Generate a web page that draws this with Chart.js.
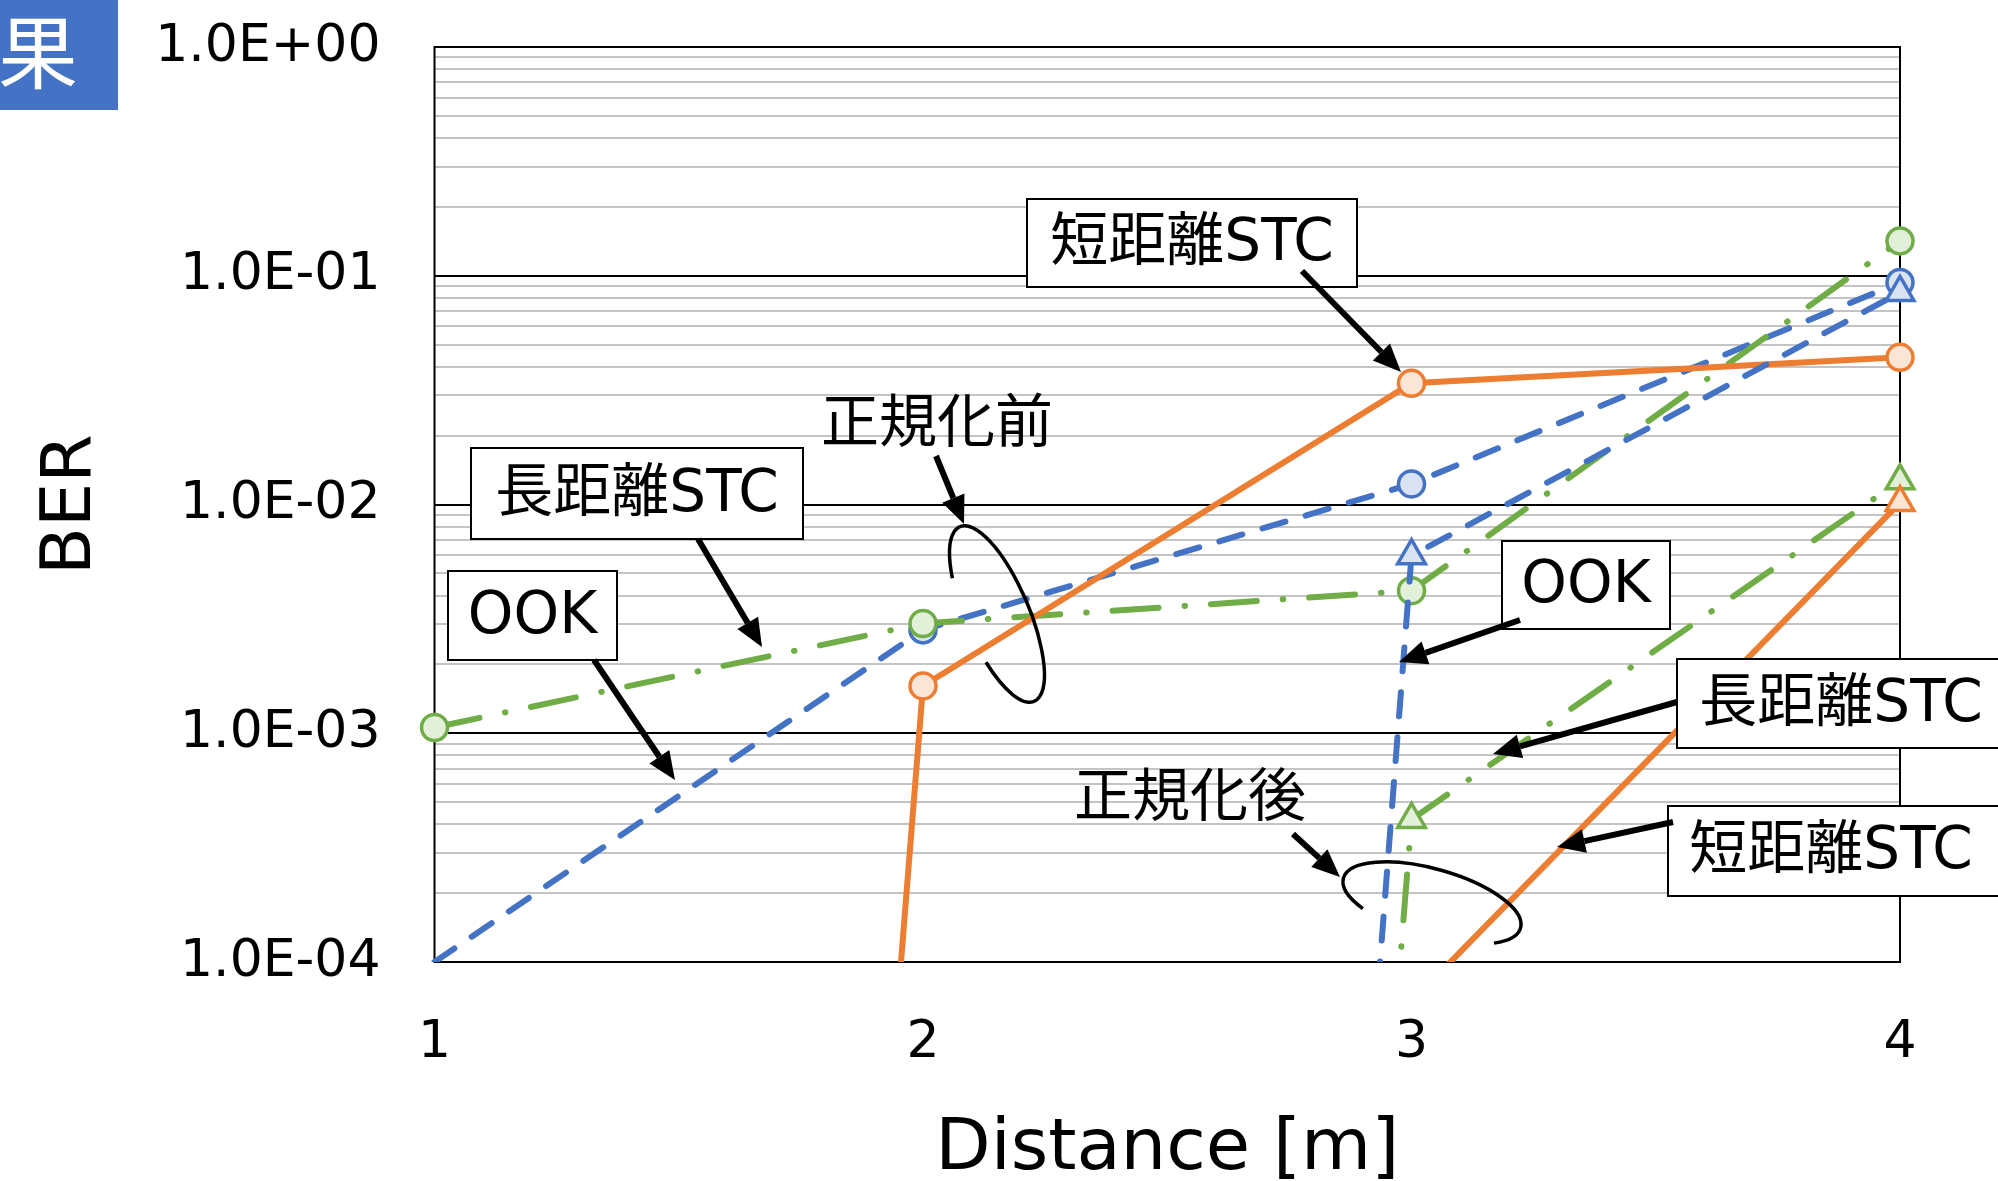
<!DOCTYPE html>
<html>
<head>
<meta charset="utf-8">
<script src="https://cdn.jsdelivr.net/npm/chart.js@4/dist/chart.umd.min.js"></script>
<style>
  html, body { margin: 0; padding: 0; background: #fff; }
  canvas { display: block; }
</style>
</head>
<body>
<canvas id="berChart" width="1998" height="1181"></canvas>
<script>
// --- data ---
const distances = [1, 2, 3, 4];
const ookBefore = [1.0e-4, 2.83e-3, 1.23e-2, 9.35e-2];
const longStcBefore = [1.06e-3, 3.02e-3, 4.2e-3, 1.42e-1];
const shortStcBefore = [2.5e-30, 1.61e-3, 3.39e-2, 4.4e-2];
const ookAfter = [null, 1.6e-30, 5.97e-3, 8.45e-2];
const longStcAfter = [null, 1.0e-30, 4.2e-4, 1.27e-2];
const shortStcAfter = [null, null, 6.7e-5, 1.02e-2];

const xTickLabels = ['1', '2', '3', '4'];
const yDecades = [1e-4, 1e-3, 1e-2, 1e-1, 1];
const yTickLabels = ['1.0E-04', '1.0E-03', '1.0E-02', '1.0E-01', '1.0E+00'];

const LATIN = '"DejaVu Sans", "Noto Sans CJK JP", sans-serif';
const BLUE = '#4472C4', ORANGE = '#ED7D31', GREEN = '#70AD47';

function pts(arr) {
  return distances.map((d, i) => ({ x: d, y: arr[i] }));
}

function series(label, arr, color, fill, shape, dash, order) {
  return {
    label: label,
    data: pts(arr),
    borderColor: color,
    borderWidth: 6,
    borderDash: dash,
    borderCapStyle: 'round',
    pointStyle: shape,
    pointRadius: shape === 'triangle' ? 16 : 13,
    pointBorderWidth: 3.5,
    pointBackgroundColor: fill,
    pointBorderColor: color,
    tension: 0,
    spanGaps: false,
    order: order,
    clip: { left: 30, right: 30, top: 30, bottom: 0 }
  };
}

const dashLine = [24, 21];
const dashDot = [46, 26, 0.5, 26];

const datasets = [
  series('OOK 正規化前', ookBefore, BLUE, '#DAE3F3', 'circle', dashLine, 6),
  series('長距離STC 正規化前', longStcBefore, GREEN, '#E2F0D9', 'circle', dashDot, 5),
  series('短距離STC 正規化前', shortStcBefore, ORANGE, '#FBE5D6', 'circle', [], 4),
  series('OOK 正規化後', ookAfter, BLUE, '#DAE3F3', 'triangle', dashLine, 3),
  series('長距離STC 正規化後', longStcAfter, GREEN, '#E2F0D9', 'triangle', dashDot, 2),
  series('短距離STC 正規化後', shortStcAfter, ORANGE, '#FBE5D6', 'triangle', [], 1)
];
datasets[0].pointRadius = [0, 13, 13, 13];

// --- plot frame, drawn under the series ---
const framePlugin = {
  id: 'frame',
  beforeDatasetsDraw(chart) {
    const { ctx, chartArea: a } = chart;
    ctx.save();
    ctx.strokeStyle = '#000';
    ctx.lineWidth = 2;
    ctx.strokeRect(a.left, a.top, a.right - a.left, a.bottom - a.top);
    ctx.restore();
  }
};

// --- call-outs, arrows and ellipses on top ---
const boxes = [
  { text: '短距離STC', x0: 1027, y0: 199, x1: 1357, y1: 287 },
  { text: '長距離STC', x0: 471, y0: 448, x1: 803, y1: 539 },
  { text: 'OOK', x0: 448, y0: 571, x1: 617, y1: 660 },
  { text: 'OOK', x0: 1502, y0: 541, x1: 1670, y1: 629 },
  { text: '長距離STC', x0: 1677, y0: 659, x1: 2010, y1: 748, tx: 1841 },
  { text: '短距離STC', x0: 1668, y0: 806, x1: 2010, y1: 896, tx: 1831 }
];
const freeTexts = [
  { text: '正規化前', x: 937, y: 427 },
  { text: '正規化後', x: 1190, y: 801 }
];
const arrows = [
  [1302, 271, 1401, 372],
  [936, 456, 964, 524],
  [698, 539, 762, 647],
  [594, 660, 675, 780],
  [1520, 620, 1399, 662],
  [1677, 702, 1493, 754],
  [1673, 822, 1557, 847],
  [1293, 834, 1340, 877]
];
const ellipses = [
  { cx: 997, cy: 614, rx: 95, ry: 32, rot: 67, a0: 122, a1: 425 },
  { cx: 1432, cy: 903, rx: 92, ry: 34, rot: 15.7, a0: 135, a1: 400 }
];

function drawArrow(ctx, x1, y1, x2, y2) {
  const ang = Math.atan2(y2 - y1, x2 - x1);
  const hl = 28, hw = 12;
  const bx = x2 - hl * Math.cos(ang), by = y2 - hl * Math.sin(ang);
  ctx.beginPath();
  ctx.moveTo(x1, y1);
  ctx.lineTo(bx, by);
  ctx.lineWidth = 6;
  ctx.stroke();
  ctx.beginPath();
  ctx.moveTo(x2, y2);
  ctx.lineTo(bx - hw * Math.sin(ang), by + hw * Math.cos(ang));
  ctx.lineTo(bx + hw * Math.sin(ang), by - hw * Math.cos(ang));
  ctx.closePath();
  ctx.fill();
}

const notesPlugin = {
  id: 'notes',
  afterDraw(chart) {
    const ctx = chart.ctx;
    const rad = Math.PI / 180;
    ctx.save();
    // heading fragment, top-left
    ctx.fillStyle = BLUE;
    ctx.fillRect(0, 0, 118, 110);
    ctx.fillStyle = '#fff';
    ctx.font = '80px "Noto Sans CJK JP"';
    ctx.textAlign = 'center';
    ctx.textBaseline = 'middle';
    ctx.fillText('果', 38, 52);

    ctx.font = '58px ' + LATIN;
    boxes.forEach(b => {
      ctx.fillStyle = '#fff';
      ctx.fillRect(b.x0, b.y0, b.x1 - b.x0, b.y1 - b.y0);
      ctx.strokeStyle = '#000';
      ctx.lineWidth = 2;
      ctx.strokeRect(b.x0, b.y0, b.x1 - b.x0, b.y1 - b.y0);
      ctx.fillStyle = '#000';
      ctx.fillText(b.text, b.tx || (b.x0 + b.x1) / 2, (b.y0 + b.y1) / 2 + 2);
    });
    freeTexts.forEach(t => ctx.fillText(t.text, t.x, t.y));

    ctx.fillStyle = '#000';
    ctx.strokeStyle = '#000';
    arrows.forEach(a => drawArrow(ctx, a[0], a[1], a[2], a[3]));

    ctx.lineWidth = 3.5;
    ellipses.forEach(e => {
      ctx.beginPath();
      ctx.ellipse(e.cx, e.cy, e.rx, e.ry, e.rot * rad, e.a0 * rad, e.a1 * rad);
      ctx.stroke();
    });
    ctx.restore();
  }
};

new Chart(document.getElementById('berChart').getContext('2d'), {
  type: 'line',
  data: { datasets: datasets },
  options: {
    responsive: false,
    animation: false,
    devicePixelRatio: 1,
    layout: { padding: { top: 47, right: 98, left: 0, bottom: 0 } },
    plugins: { legend: { display: false }, tooltip: { enabled: false } },
    scales: {
      x: {
        type: 'linear',
        min: 1,
        max: 4,
        grid: { display: false },
        border: { display: false },
        afterBuildTicks: s => { s.ticks = distances.map(v => ({ value: v })); },
        afterFit: s => { s.height = 219; s.paddingLeft = 0; s.paddingRight = 0; },
        ticks: {
          padding: 42,
          color: '#000',
          font: { family: LATIN, size: 52 },
          callback: (v) => xTickLabels[distances.indexOf(v)] ?? ''
        },
        title: {
          display: true,
          text: 'Distance [m]',
          color: '#000',
          font: { family: LATIN, size: 72, lineHeight: 0.85 },
          padding: 0
        }
      },
      y: {
        type: 'logarithmic',
        min: 1e-4,
        max: 1,
        border: { display: false },
        afterFit: s => { s.width = 434.5; s.paddingTop = 0; s.paddingBottom = 0; },
        afterBuildTicks: s => {
          const t = [];
          yDecades.forEach((d, i) => {
            t.push({ value: d, major: true });
            if (i < yDecades.length - 1) {
              for (let m = 2; m <= 9; m++) t.push({ value: m * d });
            }
          });
          s.ticks = t;
        },
        grid: {
          drawTicks: false,
          color: c => (c.tick && yDecades.includes(c.tick.value)) ? '#000' : '#C4C4C4',
          lineWidth: 2
        },
        ticks: {
          autoSkip: false,
          padding: 54,
          color: '#000',
          font: { family: LATIN, size: 52 },
          callback: (v) => {
            const i = yDecades.indexOf(v);
            return i >= 0 ? yTickLabels[i] : '';
          }
        },
        title: {
          display: true,
          text: 'BER',
          color: '#000',
          font: { family: LATIN, size: 70, lineHeight: 1.2 },
          padding: { top: 30, bottom: 0 }
        }
      }
    }
  },
  plugins: [framePlugin, notesPlugin]
});
</script>
</body>
</html>
